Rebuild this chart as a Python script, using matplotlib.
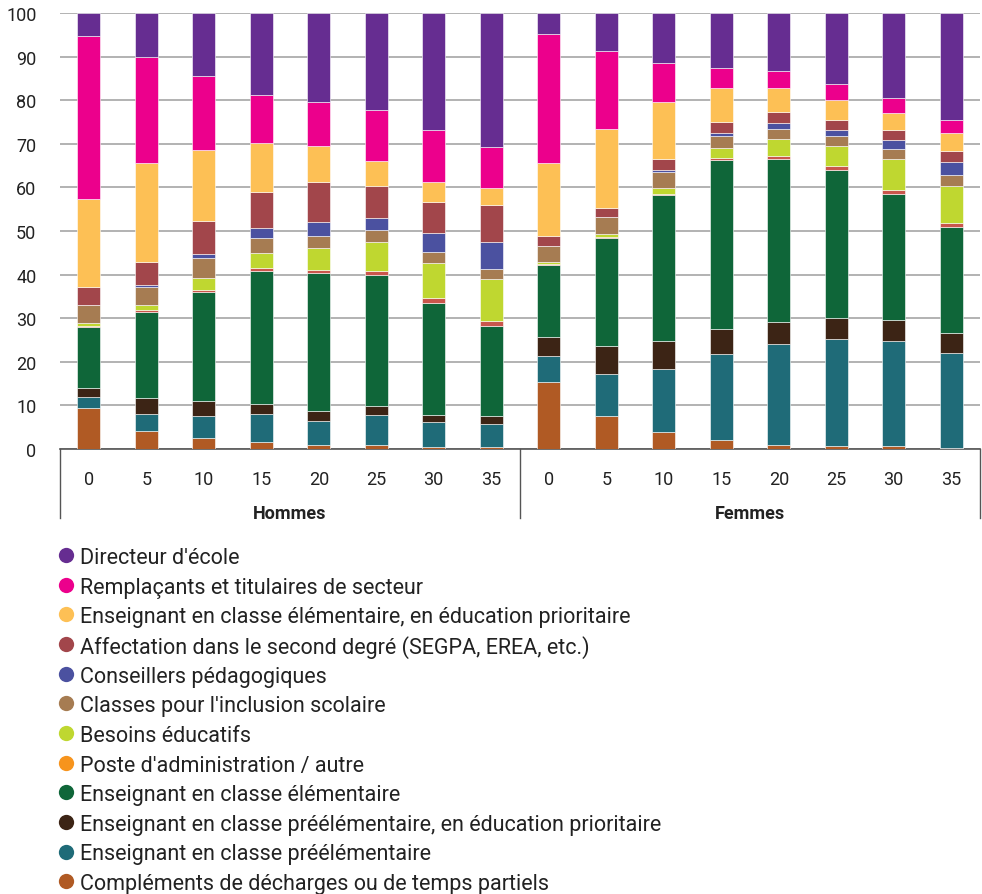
import numpy as np
import matplotlib
matplotlib.use('Agg')
import matplotlib.pyplot as plt
from matplotlib.lines import Line2D

plt.rcParams['font.family'] = ['Roboto', 'DejaVu Sans']

# Ancienneté (années) pour chaque groupe
anciennete = ['0', '5', '10', '15', '20', '25', '30', '35']
groupes = ['Hommes', 'Femmes']

# Séries empilées (de bas en haut) : Hommes 0..35 puis Femmes 0..35
complements = [9.4, 4.1, 2.5, 1.5, 1.0, 0.9, 0.5, 0.5,
               15.3, 7.6, 3.8, 2.0, 0.9, 0.6, 0.6, 0.2]
preelem = [2.6, 3.9, 5.1, 6.5, 5.4, 6.9, 5.8, 5.2,
           6.0, 9.6, 14.5, 19.7, 23.1, 24.6, 24.1, 21.8]
preelem_prio = [2.1, 3.6, 3.3, 2.4, 2.3, 2.1, 1.6, 1.8,
                4.5, 6.5, 6.5, 5.9, 5.1, 4.9, 5.0, 4.5]
elem = [13.8, 19.9, 25.2, 30.5, 31.7, 29.9, 25.5, 20.6,
        16.5, 24.8, 33.5, 38.7, 37.5, 34.0, 28.9, 24.5]
admin = [0.3, 0.3, 0.4, 0.6, 0.7, 1.1, 1.2, 1.2,
         0.2, 0.2, 0.3, 0.4, 0.7, 0.7, 0.8, 0.8]
besoins = [0.6, 1.2, 2.7, 3.5, 5.0, 6.6, 8.1, 9.8,
           0.4, 0.7, 1.3, 2.3, 3.8, 4.8, 7.0, 8.6]
inclusion = [4.2, 4.1, 4.5, 3.3, 2.8, 2.7, 2.4, 2.2,
             3.7, 3.7, 3.6, 2.7, 2.2, 2.2, 2.4, 2.4]
conseillers = [0.0, 0.5, 1.1, 2.3, 3.1, 2.7, 4.4, 6.1,
               0.0, 0.0, 0.4, 0.8, 1.4, 1.4, 2.1, 3.0]
affectation = [4.2, 5.4, 7.6, 8.4, 9.3, 7.5, 7.2, 8.6,
               2.2, 2.1, 2.5, 2.4, 2.6, 2.3, 2.3, 2.5]
elem_prio = [20.1, 22.7, 16.2, 11.2, 8.3, 5.7, 4.5, 3.9,
             16.7, 18.3, 13.1, 8.0, 5.6, 4.5, 3.9, 4.1]
remplacants = [37.5, 24.1, 16.9, 11.1, 10.1, 11.7, 12.0, 9.3,
               29.7, 17.7, 9.0, 4.6, 3.7, 3.8, 3.3, 3.0]
directeur = [5.2, 10.2, 14.5, 18.7, 20.3, 22.2, 26.8, 30.8,
             4.8, 8.8, 11.5, 12.5, 13.4, 16.2, 19.6, 24.6]

series = [
    ("Compléments de décharges ou de temps partiels", complements, '#b05a24', '#b05a24'),
    ("Enseignant en classe préélémentaire", preelem, '#1f6b78', '#1f6b78'),
    ("Enseignant en classe préélémentaire, en éducation prioritaire", preelem_prio, '#3c2415', '#3c2415'),
    ("Enseignant en classe élémentaire", elem, '#0f6639', '#0f6639'),
    ("Poste d'administration / autre", admin, '#c9564c', '#f7941d'),
    ("Besoins éducatifs", besoins, '#bfd730', '#bfd730'),
    ("Classes pour l'inclusion scolaire", inclusion, '#a67c52', '#a67c52'),
    ("Conseillers pédagogiques", conseillers, '#4b51a0', '#4b51a0'),
    ("Affectation dans le second degré (SEGPA, EREA, etc.)", affectation, '#a2464b', '#a2464b'),
    ("Enseignant en classe élémentaire, en éducation prioritaire", elem_prio, '#fdc055', '#fdc055'),
    ("Remplaçants et titulaires de secteur", remplacants, '#ec008c', '#ec008c'),
    ("Directeur d'école", directeur, '#662d91', '#662d91'),
]

W, H = 982, 895
fig = plt.figure(figsize=(W / 100, H / 100), dpi=100)
ax = fig.add_axes([60 / W, 1 - 450 / H, 920 / W, 436 / H])

x = np.arange(len(anciennete) * len(groupes))
bottom = np.zeros(len(x))
for name, vals, col, _ in series:
    vals = np.array(vals)
    ax.bar(x, vals, width=0.4, bottom=bottom, color=col,
           edgecolor='white', linewidth=0.4, zorder=3)
    bottom += vals

ax.set_xlim(-0.5, len(x) - 0.5)
ax.set_ylim(0, 100)
ax.set_yticks(np.arange(0, 101, 10))
ax.yaxis.grid(True, color='#a6a6a6', linewidth=1.2, zorder=0)
ax.tick_params(axis='y', length=0, pad=17, labelsize=13, labelcolor='#222222')
ax.tick_params(axis='x', length=0, pad=15, labelsize=13, labelcolor='#222222')
ax.set_xticks(x)
ax.set_xticklabels(anciennete * len(groupes))
for s in ['left', 'right', 'top']:
    ax.spines[s].set_visible(False)
ax.spines['bottom'].set_color('#555555')
ax.spines['bottom'].set_linewidth(1.2)

# axe de catégories à deux niveaux
for xa in [0.0, 0.5, 1.0]:
    ax.add_line(Line2D([xa, xa], [0, -69 / 436], transform=ax.transAxes,
                       color='#555555', linewidth=1.0, clip_on=False))
for i, g in enumerate(groupes):
    ax.text(0.25 + 0.5 * i, -64 / 436, g, transform=ax.transAxes,
            ha='center', va='center', fontsize=13, fontweight='bold',
            color='#222222')

# légende placée à la main (une ligne par série, du haut vers le bas)
for i, (name, _, _, lc) in enumerate(series[::-1]):
    yy = 1 - (556 + i * 29.65) / H
    fig.add_artist(Line2D([66 / W], [yy], marker='o', markersize=11,
                          markerfacecolor=lc, markeredgecolor='none',
                          linestyle='', transform=fig.transFigure))
    fig.text(80 / W, yy, name, fontsize=15.5, color='#222222',
             ha='left', va='center_baseline')

fig.savefig('out.png', dpi=100)
